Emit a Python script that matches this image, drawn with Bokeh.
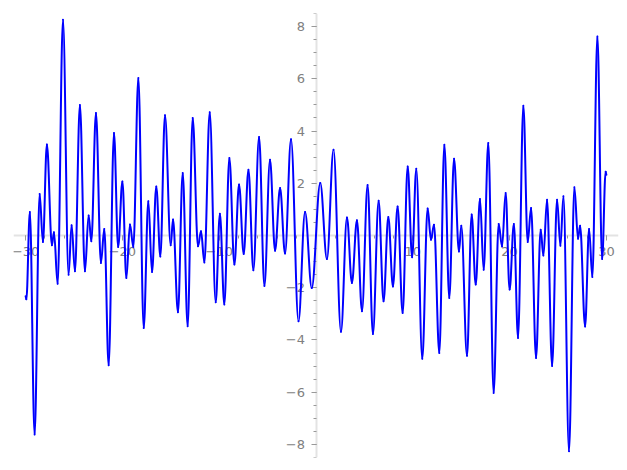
from bokeh.plotting import figure
from bokeh.models import FixedTicker, Range1d, ColumnDataSource
from bokeh.embed import file_html
from bokeh.resources import INLINE

# curve samples (local extrema and end points)
x_left = [-30.00, -29.92, -29.56, -29.07, -28.55, -28.21, -27.80, -27.28, -27.07, -26.69,
          -26.14, -25.56, -25.25, -24.90, -24.39, -23.87, -23.49, -23.21, -22.73, -22.22,
          -21.87, -21.42, -20.87, -20.44, -20.00, -19.59, -19.22, -18.87, -18.35, -17.80,
          -17.32, -16.94, -16.50, -16.08, -15.60, -15.01, -14.77, -14.26, -13.77, -13.26,
          -12.74, -12.19, -11.88, -11.53, -10.98, -10.36, -9.93, -9.47, -8.95, -8.43,
          -7.95, -7.47, -6.98, -6.47, -5.88, -5.33, -4.75, -4.23, -3.71, -3.20,
          -2.58, -1.81, -1.13, -0.44]
y_left = [-2.33, -2.44, 0.90, -7.62, 1.59, -0.25, 3.48, -0.37, 0.12, -1.85,
          8.26, -1.50, 0.39, -1.37, 5.00, -1.37, 0.77, -0.22, 4.69, -1.05,
          0.25, -4.97, 3.92, -0.44, 2.07, -1.63, 0.42, -0.44, 6.03, -3.54,
          1.31, -1.40, 1.88, -0.80, 4.60, -0.37, 0.61, -2.94, 2.39, -3.47,
          4.50, -0.41, 0.16, -1.03, 4.72, -2.56, 0.83, -2.64, 2.97, -1.11,
          1.95, -0.71, 2.52, -1.33, 3.77, -1.93, 2.90, -0.58, 1.82, -0.69,
          3.69, -3.28, 0.90, -2.01]
x_right = [0.44, 1.13, 1.81, 2.58, 3.20, 3.71, 4.23, 4.75, 5.33, 5.88,
           6.47, 6.98, 7.47, 7.95, 8.43, 8.95, 9.47, 9.93, 10.36, 10.98,
           11.53, 11.88, 12.19, 12.74, 13.26, 13.77, 14.26, 14.77, 15.01, 15.60,
           16.08, 16.50, 16.94, 17.32, 17.80, 18.35, 18.87, 19.22, 19.59, 20.00,
           20.44, 20.87, 21.42, 21.87, 22.22, 22.73, 23.21, 23.49, 23.87, 24.39,
           24.90, 25.25, 25.56, 26.14, 26.69, 27.07, 27.28, 27.80, 28.21, 28.55,
           29.07, 29.56, 29.92, 30.00]
y_right = [2.01, -0.90, 3.28, -3.69, 0.69, -1.82, 0.58, -2.90, 1.93, -3.77,
           1.33, -2.52, 0.71, -1.95, 1.11, -2.97, 2.64, -0.83, 2.56, -4.72,
           1.03, -0.16, 0.41, -4.50, 3.47, -2.39, 2.94, -0.61, 0.37, -4.60,
           0.80, -1.88, 1.40, -1.31, 3.54, -6.03, 0.44, -0.42, 1.63, -2.07,
           0.44, -3.92, 4.97, -0.25, 1.05, -4.69, 0.22, -0.77, 1.37, -5.00,
           1.37, -0.39, 1.50, -8.26, 1.85, -0.12, 0.37, -3.48, 0.25, -1.59,
           7.62, -0.90, 2.44, 2.33]

x_major = [-30, -20, -10, 10, 20, 30]
x_minor = [-30, -28, -26, -24, -22, -20, -18, -16, -14, -12, -10, -8, -6, -4, -2,
           2, 4, 6, 8, 10, 12, 14, 16, 18, 20, 22, 24, 26, 28, 30]
y_major = [-8, -6, -4, -2, 2, 4, 6, 8]
y_minor = [-8.5, -8, -7.5, -7, -6.5, -6, -5.5, -5, -4.5, -4, -3.5, -3, -2.5, -2, -1.5, -1, -0.5,
           0.5, 1, 1.5, 2, 2.5, 3, 3.5, 4, 4.5, 5, 5.5, 6, 6.5, 7, 7.5, 8, 8.5]

xs = x_left + x_right
ys = y_left + y_right

# each stretch between two successive extrema is drawn as a smooth half wave
# (cubic Bezier with level tangents at both extrema)
K = 0.3634
seg = dict(x0=xs[:-1], y0=ys[:-1], x1=xs[1:], y1=ys[1:])
seg["cx0"] = [a + K * (b - a) for a, b in zip(seg["x0"], seg["x1"])]
seg["cy0"] = list(seg["y0"])
seg["cx1"] = [b - K * (b - a) for a, b in zip(seg["x0"], seg["x1"])]
seg["cy1"] = list(seg["y1"])
src = ColumnDataSource(seg)

p = figure(width=619, height=462, output_backend="svg", toolbar_location=None,
           x_range=Range1d(-31.25, 31.25), y_range=Range1d(-8.5, 8.5),
           min_border_left=13, min_border_right=1, min_border_top=13, min_border_bottom=5)
p.outline_line_color = None
p.grid.visible = False
p.background_fill_color = "white"

p.xaxis.fixed_location = 0
p.yaxis.fixed_location = 0
p.xaxis.ticker = FixedTicker(ticks=x_major, minor_ticks=x_minor)
p.yaxis.ticker = FixedTicker(ticks=y_major, minor_ticks=y_minor)
p.xaxis.major_label_overrides = {v: str(v).replace("-", "\u2212") for v in x_major}
p.yaxis.major_label_overrides = {v: str(v).replace("-", "\u2212") for v in y_major}

for ax in (p.xaxis, p.yaxis):
    ax.axis_line_color = "#e3e3e3"
    ax.axis_line_width = 2
    ax.major_tick_line_color = "#999999"
    ax.minor_tick_line_color = "#999999"
    ax.major_tick_out = 5
    ax.major_tick_in = 0
    ax.minor_tick_out = 3
    ax.minor_tick_in = 0
    ax.major_label_text_font = "DejaVu Sans"
    ax.major_label_text_font_size = "13px"
    ax.major_label_text_color = "#808080"
    ax.major_label_standoff = 6

r = p.bezier(x0="x0", y0="y0", x1="x1", y1="y1", cx0="cx0", cy0="cy0",
             cx1="cx1", cy1="cy1", source=src,
             line_color="#0000ff", line_width=2, line_cap="round")
r.level = "overlay"

open("out.html", "w").write(file_html(p, INLINE))
